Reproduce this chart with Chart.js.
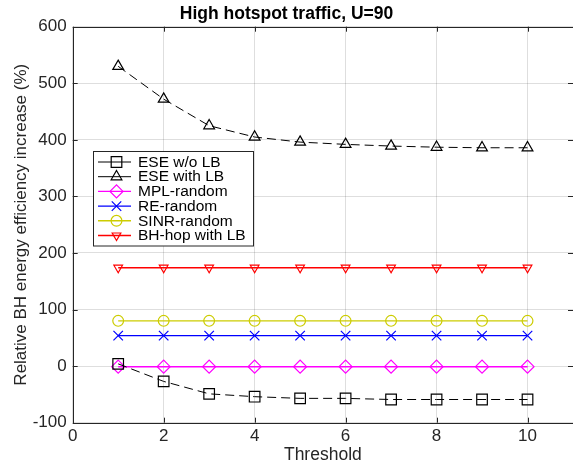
<!DOCTYPE html>
<html>
<head>
<meta charset="utf-8">
<title>High hotspot traffic, U=90</title>
<script src="https://cdn.jsdelivr.net/npm/chart.js@4/dist/chart.umd.min.js"></script>
<style>
    html, body { margin: 0; padding: 0; background: #fff; }
    #wrap { width: 573px; height: 468px; }
</style>
</head>
<body>
<div id="wrap"><canvas id="chart" width="573" height="468"></canvas></div>
<script>
// data
var thresholds = [1, 2, 3, 4, 5, 6, 7, 8, 9, 10];
var eseNoLb    = [4, -27, -49, -54, -57, -57, -59, -59, -59, -59];
var eseWithLb  = [530, 472, 425, 405, 396, 392, 389, 387, 386, 386];
var mplRandom  = [-1, -1, -1, -1, -1, -1, -1, -1, -1, -1];
var reRandom   = [54, 54, 54, 54, 54, 54, 54, 54, 54, 54];
var sinrRandom = [80, 80, 80, 80, 80, 80, 80, 80, 80, 80];
var bhHopLb    = [174, 174, 174, 174, 174, 174, 174, 174, 174, 174];
var xTicks = [0, 2, 4, 6, 8, 10];
var yTicks = [-100, 0, 100, 200, 300, 400, 500, 600];

var fontFamily = "'Liberation Sans', Arial, Helvetica, sans-serif";
var axisColor = '#262626';
var gridColor = 'rgba(0,0,0,0.13)';

function points(values) {
    return thresholds.map(function(t, i) { return { x: t, y: values[i] }; });
}

function series(label, values, color, style, radius, rotation, dash) {
    return {
        label: label,
        data: points(values),
        borderColor: color,
        backgroundColor: color,
        borderWidth: dash ? 1 : 1.4,
        borderDash: dash || [],
        pointStyle: style,
        pointRadius: radius,
        pointRotation: rotation || 0,
        pointBorderColor: color,
        pointBackgroundColor: 'rgba(0,0,0,0)',
        pointBorderWidth: 1.2,
        pointHoverRadius: radius,
        tension: 0,
        fill: false
    };
}

var datasets = [
    series('ESE w/o LB', eseNoLb, '#000000', 'rect', 7.5, 0, [9, 5]),
    series('ESE with LB', eseWithLb, '#000000', 'triangle', 6.2, 0, [9, 5]),
    series('MPL-random', mplRandom, '#ff00ff', 'rectRot', 6.5, 0),
    series('RE-random', reRandom, '#0000ff', 'crossRot', 6.7, 0),
    series('SINR-random', sinrRandom, '#cccc00', 'circle', 5.4, 0),
    series('BH-hop with LB', bhHopLb, '#ff0000', 'triangle', 5, 180)
];

function drawMarker(ctx, ds, x, y) {
    ctx.save();
    ctx.strokeStyle = ds.pointBorderColor;
    ctx.fillStyle = 'rgba(0,0,0,0)';
    ctx.lineWidth = ds.pointBorderWidth;
    ctx.setLineDash([]);
    Chart.helpers.drawPoint(ctx, {
        pointStyle: ds.pointStyle,
        radius: ds.pointRadius,
        rotation: ds.pointRotation,
        borderWidth: ds.pointBorderWidth
    }, x, y);
    ctx.restore();
}

// axes box with inward ticks, MATLAB style
var boxPlugin = {
    id: 'box',
    afterDatasetsDraw: function(chart) {
        var ctx = chart.ctx, a = chart.chartArea;
        var xs = chart.scales.x, ys = chart.scales.y;
        ctx.save();
        ctx.strokeStyle = axisColor;
        ctx.lineWidth = 1;
        ctx.setLineDash([]);
        ctx.strokeRect(Math.round(a.left) + 0.5, Math.round(a.top) + 0.5,
            Math.round(a.right - a.left), Math.round(a.bottom - a.top));
        ctx.beginPath();
        xTicks.forEach(function(v) {
            var px = Math.round(xs.getPixelForValue(v)) + 0.5;
            ctx.moveTo(px, a.bottom); ctx.lineTo(px, a.bottom - 5);
            ctx.moveTo(px, a.top); ctx.lineTo(px, a.top + 5);
        });
        yTicks.forEach(function(v) {
            var py = Math.round(ys.getPixelForValue(v)) + 0.5;
            ctx.moveTo(a.left, py); ctx.lineTo(a.left + 5, py);
            ctx.moveTo(a.right, py); ctx.lineTo(a.right - 5, py);
        });
        ctx.stroke();
        ctx.restore();
    }
};

// legend drawn inside the plot area
var legendBox = { left: 93.5, top: 151.5, width: 160, height: 94.5, rowStart: 162, rowStep: 14.7 };
var legendPlugin = {
    id: 'insideLegend',
    afterDraw: function(chart) {
        var ctx = chart.ctx;
        ctx.save();
        ctx.fillStyle = '#ffffff';
        ctx.fillRect(legendBox.left, legendBox.top, legendBox.width, legendBox.height);
        ctx.strokeStyle = axisColor;
        ctx.lineWidth = 1;
        ctx.strokeRect(legendBox.left, legendBox.top, legendBox.width, legendBox.height);
        chart.data.datasets.forEach(function(ds, i) {
            var y = legendBox.rowStart + legendBox.rowStep * i;
            ctx.strokeStyle = ds.borderColor;
            ctx.lineWidth = ds.borderWidth;
            ctx.setLineDash([]);
            ctx.beginPath();
            ctx.moveTo(98, y);
            ctx.lineTo(131, y);
            ctx.stroke();
            drawMarker(ctx, ds, 116.5, y);
            ctx.fillStyle = '#000000';
            ctx.font = '15.5px ' + fontFamily;
            ctx.textBaseline = 'middle';
            ctx.textAlign = 'left';
            ctx.fillText(ds.label, 138, y + 0.5);
        });
        ctx.restore();
    }
};

Chart.defaults.font.family = fontFamily;

var chart = new Chart(document.getElementById('chart').getContext('2d'), {
    type: 'line',
    data: { datasets: datasets },
    options: {
        responsive: false,
        animation: false,
        devicePixelRatio: 1,
        // markers must not push the plot box in from the right edge
        layout: { padding: 0, autoPadding: false },
        plugins: {
            legend: { display: false },
            tooltip: { enabled: false },
            title: {
                display: true,
                text: 'High hotspot traffic, U=90',
                color: '#000000',
                font: { size: 17.5, weight: 'bold' },
                padding: { top: 3.5, bottom: 2.2 }
            }
        },
        scales: {
            x: {
                type: 'linear',
                min: 0,
                max: 11,
                afterBuildTicks: function(s) { s.ticks = xTicks.map(function(v) { return { value: v }; }); },
                afterFit: function(s) { s.height = 45.3; },
                grid: { color: gridColor, drawTicks: false },
                border: { display: false },
                ticks: { color: axisColor, font: { size: 17 }, padding: 3, maxRotation: 0 },
                title: {
                    display: true,
                    text: 'Threshold',
                    color: axisColor,
                    font: { size: 17.5 },
                    padding: { top: 0, bottom: 2.5 }
                }
            },
            y: {
                type: 'linear',
                min: -100,
                max: 600,
                afterBuildTicks: function(s) { s.ticks = yTicks.map(function(v) { return { value: v }; }); },
                afterFit: function(s) { s.width = 72.7; },
                grid: { color: gridColor, drawTicks: false },
                border: { display: false },
                ticks: { color: axisColor, font: { size: 17 }, padding: 6 },
                title: {
                    display: true,
                    text: 'Relative BH energy efficiency increase (%)',
                    color: axisColor,
                    font: { size: 17 },
                    padding: { top: 11, bottom: 0 }
                }
            }
        }
    },
    plugins: [boxPlugin, legendPlugin]
});
</script>
</body>
</html>
